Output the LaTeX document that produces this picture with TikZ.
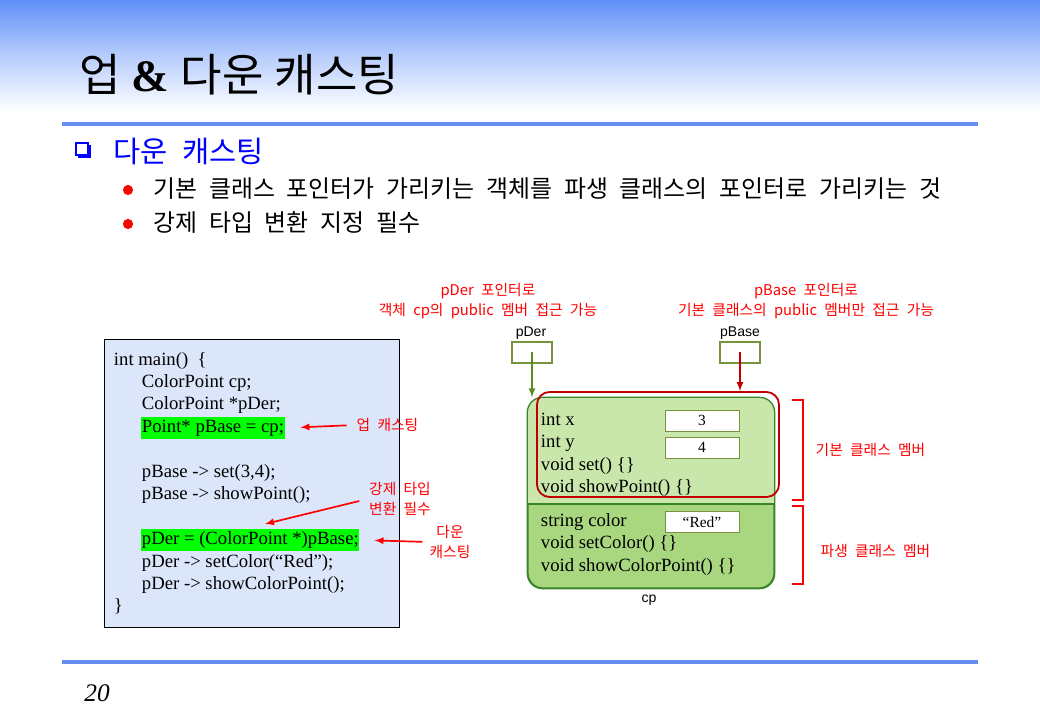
\documentclass[tikz,border=0pt]{standalone}
\usepackage{fontspec}
\setmainfont{Liberation Serif}
\newfontfamily\kr{Noto Sans CJK KR}[WordSpace=2.2]
\newfontfamily\lsans{Liberation Sans}
\definecolor{headblue}{RGB}{96,144,248}
\definecolor{ruleblue}{RGB}{102,142,238}
\definecolor{codebg}{RGB}{220,230,250}
\definecolor{hlgreen}{RGB}{0,255,0}
\definecolor{cptop}{RGB}{201,231,170}
\definecolor{cpbot}{RGB}{169,215,127}
\definecolor{cpline}{RGB}{56,132,40}
\definecolor{ptrline}{RGB}{119,147,60}
\definecolor{ptrgreen}{RGB}{94,140,36}
\definecolor{darkred}{RGB}{192,0,0}
\definecolor{labred}{RGB}{255,0,0}
\definecolor{subblue}{RGB}{0,0,255}

\begin{document}
\begin{tikzpicture}[
    x=0.025cm, y=-0.025cm,
    codeline/.style={anchor=west, inner xsep=0.5pt, inner ysep=1pt, text height=10pt, text depth=3pt, font=\fontsize{13.3}{15}\selectfont},
    hl/.style={codeline, fill=hlgreen},
    val/.style={draw=ptrline, fill=white, line width=0.7pt, minimum width=1.85cm, minimum height=0.525cm, inner sep=0pt, font=\fontsize{11}{13}\selectfont},
    ptr/.style={draw=ptrline, line width=0.8pt, minimum width=1cm, minimum height=0.525cm, inner sep=0pt},
    ptrname/.style={font=\lsans\fontsize{10}{12}\selectfont, inner sep=0pt},
    lab/.style={text=labred, font=\kr\fontsize{10.5}{14}\selectfont, align=center, inner sep=1pt},
    redarr/.style={-latex, labred, line width=1.2pt},
    brk/.style={labred, line width=2pt},
    hrule/.style={ruleblue, line width=2.2pt}
]
\useasboundingbox (0,0) rectangle (1040,720);
% ---------------- header ----------------
\shade[top color=headblue, bottom color=white, middle color=headblue!45] (0,0) rectangle (1040,112);
\node[anchor=west, inner sep=0pt, font=\fontsize{32}{36}\selectfont] (title) at (79,75) {{\kr 업} \textbf{\&} {\kr 다운} {\kr 캐스팅}};
\draw[hrule] (62,124) -- (978,124);
% ---------------- bullets ----------------
\draw[subblue, line width=0.9pt] (76,143) rectangle (88,155);
\fill[subblue] (88,145) rectangle (91,158);
\fill[subblue] (78,155) rectangle (91,158);
\node[anchor=west, inner sep=0pt, text=subblue, font=\kr\fontsize{21}{24}\selectfont] (sub) at (113,151) {다운 캐스팅};
\fill[labred] (128,190) circle[radius=3.6pt];
\fill[labred] (128,224) circle[radius=3.6pt];
\node[anchor=west, inner sep=0pt, font=\kr\fontsize{17}{20}\selectfont] (b1) at (153,189) {기본 클래스 포인터가 가리키는 객체를 파생 클래스의 포인터로 가리키는 것};
\node[anchor=west, inner sep=0pt, font=\kr\fontsize{17}{20}\selectfont] (b2) at (153,223) {강제 타입 변환 지정 필수};
% ---------------- code ----------------
\filldraw[fill=codebg, draw=black, line width=0.7pt] (104,339) rectangle (399,627);
\node[codeline] (c1) at (113,361) {int main()~ \{};
\node[codeline] (c2) at (141,383) {ColorPoint cp;};
\node[codeline] (c3) at (141,405) {ColorPoint *pDer;};
\node[hl]       (c4) at (141,428) {Point* pBase = cp;};
\node[codeline] (c5) at (141,473) {pBase -> set(3,4);};
\node[codeline] (c6) at (141,495) {pBase -> showPoint();};
\node[hl]       (c7) at (141,540) {pDer = (ColorPoint *)pBase;};
\node[codeline] (c8) at (141,563) {pDer -> setColor(“Red”);};
\node[codeline] (c9) at (141,585) {pDer -> showColorPoint();};
\node[codeline] (c10) at (113,607) {\}};
% ---------------- casting notes ----------------
\node[lab, anchor=west] (up) at (355,425) {업 캐스팅};
\node[lab] (cast) at (400,499) {강제 타입\\변환 필수};
\node[lab] (down) at (450,542) {다운\\캐스팅};
\coordinate (castend) at (265,524);
\draw[redarr, shorten <=6pt, shorten >=11pt] (up.west) -- (c4.east);
\draw[redarr, shorten <=6pt] (cast.west) -- (castend);
\draw[redarr, shorten <=4pt, shorten >=10.5pt] (down.west) -- (c7.east);
% ---------------- object cp ----------------
\node[draw=cpline, fill=cpbot, line width=0.9pt, rounded corners=10.7pt, minimum width=6.15cm, minimum height=4.75cm] (cp) at (651,493) {};
\begin{scope}
\clip[rounded corners=10.7pt] (cp.north west) rectangle (cp.south east);
\fill[cptop] (cp.north west) rectangle (cp.east |- 0,504);
\end{scope}
\draw[cpline, line width=0.9pt] (cp.west |- 0,504) -- (cp.east |- 0,504);
\draw[cpline, line width=0.9pt, rounded corners=10.7pt] (cp.north west) rectangle (cp.south east);
\node[codeline] (m1) at (540,421) {int x};
\node[codeline] (m2) at (540,443) {int y};
\node[codeline] (m3) at (540,466) {void set() \{\}};
\node[codeline] (m4) at (540,488) {void showPoint() \{\}};
\node[codeline] (m5) at (540,522) {string color};
\node[codeline] (m6) at (540,544) {void setColor() \{\}};
\node[codeline] (m7) at (540,567) {void showColorPoint() \{\}};
\node[val] (vx) at (702,420.5) {3};
\node[val] (vy) at (702,447.5) {4};
\node[val] (vc) at (702,522) {“Red”};
\node[ptrname] (cpname) at (649,600) {cp};
\node[draw=darkred, line width=1.3pt, rounded corners=9pt, minimum width=6.05cm, minimum height=2.625cm] (base) at (658,444.5) {};
% ---------------- pointers ----------------
\node[ptr] (pder) at (532,352.5) {};
\node[ptr] (pbase) at (740,352.5) {};
\node[ptrname] (pdername) at (531,333) {pDer};
\node[ptrname] (pbasename) at (740,333) {pBase};
\draw[-latex, ptrgreen, line width=1.2pt] (pder.center) -- (pder.center |- cp.north);
\draw[-latex, darkred, line width=1.2pt] (pbase.center) -- (pbase.center |- base.north);
\node[lab] (derinfo) at (488,301) {pDer 포인터로\\객체 cp의 public 멤버 접근 가능};
\node[lab] (baseinfo) at (806,301) {pBase 포인터로\\기본 클래스의 public 멤버만 접근 가능};
% ---------------- member brackets ----------------
\draw[brk] (792,400) -- (803,400) -- (803,500) -- (792,500);
\draw[brk] (792,506) -- (803,506) -- (803,584) -- (792,584);
\node[lab, anchor=west] (basemem) at (814,450) {기본 클래스 멤버};
\node[lab, anchor=west] (dermem) at (819,551) {파생 클래스 멤버};
% ---------------- footer ----------------
\draw[hrule] (62,662) -- (978,662);
\node[font=\itshape\fontsize{18}{20}\selectfont] (pageno) at (97,693) {20};
\end{tikzpicture}
\end{document}
